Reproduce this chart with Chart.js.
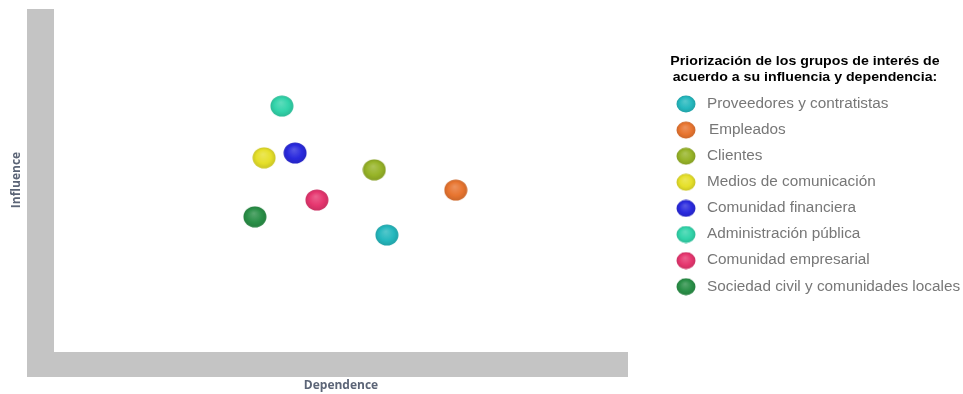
<!DOCTYPE html>
<html>
<head>
<meta charset="utf-8">
<script src="https://cdn.jsdelivr.net/npm/chart.js@4.4.1/dist/chart.umd.min.js"></script>
<style>
  html, body { margin: 0; padding: 0; background: #fff; }
  #wrap { width: 963px; height: 394px; position: relative; }
</style>
</head>
<body>
<div id="wrap"><canvas id="myChart" width="963" height="394"></canvas></div>
<script>
(function () {
    'use strict';

    // ── Data ───────────────────────────────────────────────────────────────────
    const groups = [
        'Proveedores y contratistas',
        'Empleados',
        'Clientes',
        'Medios de comunicación',
        'Comunidad financiera',
        'Administración pública',
        'Comunidad empresarial',
        'Sociedad civil y comunidades locales'
    ];
    const dependence = [58.0, 70.0, 55.8, 36.6, 42.0, 39.7, 45.8, 35.0];
    const influence  = [34.1, 47.2, 53.1, 56.6, 58.0, 71.7, 44.3, 39.4];
    const colors = ['#25b8be', '#e87530', '#97b428', '#e6e02a', '#2a2ade', '#32d4aa', '#e6366f', '#2a9048'];

    const legendTitle = ['Priorización de los grupos de interés de', 'acuerdo a su influencia y dependencia:'];
    const xTitle = 'Dependence';
    const yTitle = 'Influence';

    // ── Shaded sphere sprites ──────────────────────────────────────────────────
    function shade(hex, amt) {
        const n = parseInt(hex.slice(1), 16);
        const r = (n >> 16) & 255, g = (n >> 8) & 255, b = n & 255;
        const f = (c) => amt >= 0 ? Math.round(c + (255 - c) * amt) : Math.round(c * (1 + amt));
        return `rgb(${f(r)},${f(g)},${f(b)})`;
    }

    function sphere(color, w, h) {
        const c = document.createElement('canvas');
        c.width = w; c.height = h;
        const x = c.getContext('2d');
        const rx = w / 2 - 0.5, ry = h / 2 - 0.5;
        x.save();
        x.translate(w / 2, h / 2);
        x.scale(1, ry / rx);
        const g = x.createRadialGradient(-rx * 0.1, -rx * 0.35, 0, 0, 0, rx);
        g.addColorStop(0, shade(color, 0.22));
        g.addColorStop(0.65, color);
        g.addColorStop(1, shade(color, -0.12));
        x.fillStyle = g;
        x.beginPath();
        x.arc(0, 0, rx, 0, Math.PI * 2);
        x.fill();
        x.restore();
        return c;
    }

    const chartSprites  = colors.map(c => sphere(c, 24, 22));
    const legendSprites = colors.map(c => sphere(c, 20, 18));

    // text is slightly stretched horizontally in the original
    function stretchedText(ctx, text, x, y, sx) {
        ctx.save();
        ctx.translate(x, y);
        ctx.scale(sx, 1);
        ctx.fillText(text, 0, 0);
        ctx.restore();
    }

    // ── Plugin: gray L-shaped axes, axis titles, legend ────────────────────────
    const decorPlugin = {
        id: 'decor',
        beforeDraw(chart) {
            const { ctx, chartArea } = chart;
            const { left, right, top, bottom } = chartArea;
            ctx.save();
            ctx.fillStyle = '#c4c4c4';
            ctx.fillRect(left - 27, top, 27, bottom - top + 25);
            ctx.fillRect(left - 27, bottom, right - left + 27, 25);

            ctx.fillStyle = '#5c6577';
            ctx.font = 'bold 12px "Open Sans"';
            ctx.textAlign = 'center';
            ctx.textBaseline = 'middle';
            ctx.fillText(xTitle, 341, 386);
            ctx.translate(17, 180);
            ctx.rotate(-Math.PI / 2);
            ctx.fillText(yTitle, 0, 0);
            ctx.restore();
        },
        afterDraw(chart) {
            const { ctx } = chart;
            ctx.save();
            ctx.fillStyle = '#000';
            ctx.font = 'bold 13px "Liberation Sans", Arial';
            ctx.textAlign = 'center';
            ctx.textBaseline = 'middle';
            legendTitle.forEach((t, i) => stretchedText(ctx, t, 805, 61 + i * 16, 1.09));

            ctx.font = '14px "Liberation Sans", Arial';
            ctx.textAlign = 'left';
            ctx.fillStyle = '#777777';
            groups.forEach((g, i) => {
                const y = 104 + i * 26.1;
                const s = legendSprites[i];
                ctx.drawImage(s, 686 - s.width / 2, y - s.height / 2);
                stretchedText(ctx, g, i === 1 ? 709 : 707, y, 1.095);
            });
            ctx.restore();
        }
    };

    // ── Chart ──────────────────────────────────────────────────────────────────
    new Chart(document.getElementById('myChart').getContext('2d'), {
        type: 'scatter',
        data: {
            datasets: groups.map((g, i) => ({
                label: g,
                data: [{ x: dependence[i], y: influence[i] }],
                pointStyle: chartSprites[i],
                backgroundColor: colors[i],
                pointRadius: 11
            }))
        },
        options: {
            responsive: false,
            animation: false,
            layout: { autoPadding: false, padding: { left: 54, top: 9, right: 335, bottom: 42 } },
            plugins: {
                legend: { display: false },
                tooltip: { enabled: false }
            },
            scales: {
                x: { display: false, min: 0, max: 100 },
                y: { display: false, min: 0, max: 100 }
            }
        },
        plugins: [decorPlugin]
    });
}());
</script>
</body>
</html>
